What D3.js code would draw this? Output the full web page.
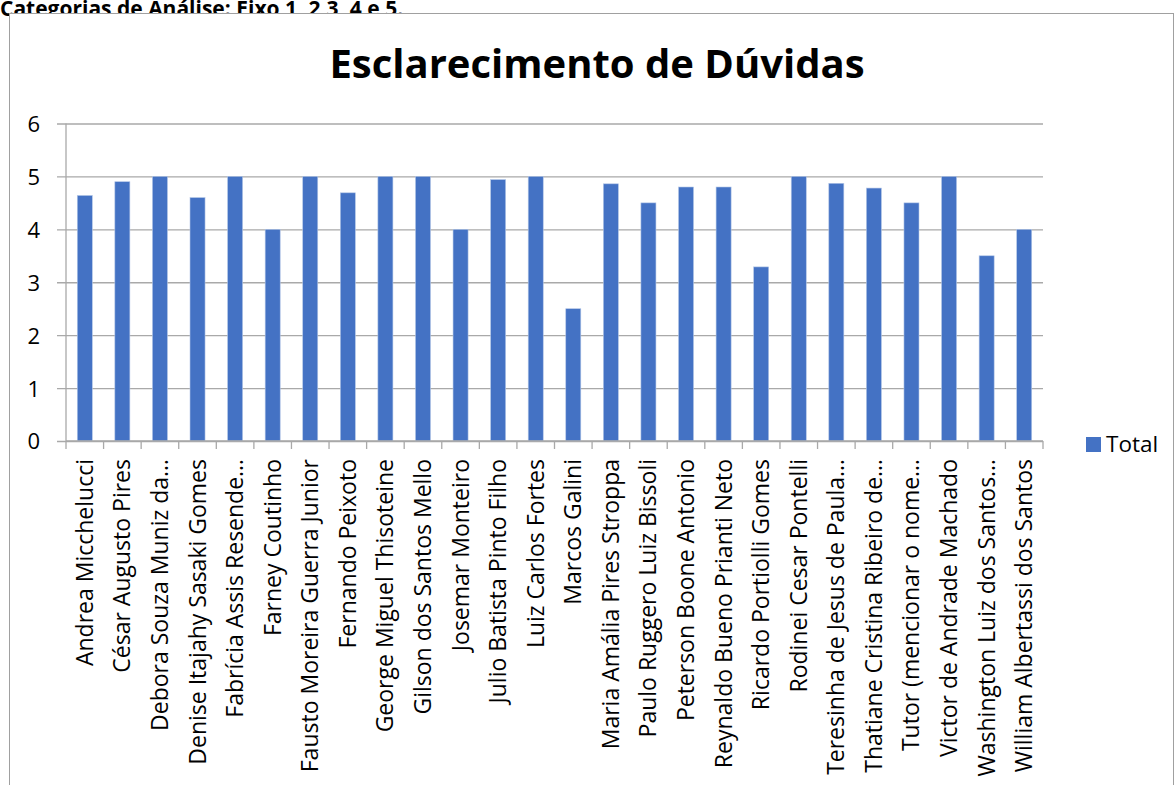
<!DOCTYPE html>
<html>
<head>
<meta charset="utf-8">
<script src="https://cdn.jsdelivr.net/npm/d3@7"></script>
<style>
  body { margin: 0; background: white; overflow: hidden; }
  text { font-family: "Open Sans", "Noto Sans", sans-serif; fill: #000; }
</style>
</head>
<body>
<svg id="chart" width="1176" height="785"></svg>
<script>
// chart data
var categories = [
  "Andrea Micchelucci", "César Augusto Pires", "Debora Souza Muniz da…",
  "Denise Itajahy Sasaki Gomes", "Fabrícia Assis Resende…", "Farney Coutinho",
  "Fausto Moreira Guerra Junior", "Fernando Peixoto", "George Miguel Thisoteine",
  "Gilson dos Santos Mello", "Josemar Monteiro", "Julio Batista Pinto Filho",
  "Luiz Carlos Fortes", "Marcos Galini", "Maria Amália Pires Stroppa",
  "Paulo Ruggero Luiz Bissoli", "Peterson Boone Antonio", "Reynaldo Bueno Prianti Neto",
  "Ricardo Portiolli Gomes", "Rodinei Cesar Pontelli", "Teresinha de Jesus de Paula…",
  "Thatiane Cristina Ribeiro de…", "Tutor (mencionar o nome…", "Victor de Andrade Machado",
  "Washington Luiz dos Santos…", "William Albertassi dos Santos"
];
var totals = [
  4.64, 4.9, 5, 4.6, 5, 4, 5, 4.69, 5, 5, 4, 4.94, 5,
  2.5, 4.86, 4.5, 4.8, 4.8, 3.29, 5, 4.87, 4.78, 4.5, 5, 3.5, 4
];
var yTicks = [0, 1, 2, 3, 4, 5, 6];
var seriesName = "Total";
var titleText = "Esclarecimento de Dúvidas";
var headingText = "Categorias de Análise: Eixo 1, 2,3, 4 e 5.";

var app = {};
app.left = 66;    // plot area left
app.right = 1043; // plot area right
app.top = 123.5;  // y of 6
app.bottom = 441; // y of 0
app.barColor = "#4472C4";
app.gridColor = "#A9A9A9";

var svg = d3.select("#chart");

// heading above the chart box (cut at the top of the page, as in the source)
svg.append("text")
  .attr("x", 0)
  .attr("y", 16)
  .style("font-size", "21px")
  .style("font-weight", "bold")
  .text(headingText);

// chart frame
svg.append("rect")
  .attr("x", 9.5)
  .attr("y", 13.5)
  .attr("width", 1164)
  .attr("height", 800)
  .style("fill", "white")
  .style("stroke", "#A0A0A0")
  .style("stroke-width", 1);

// title
svg.append("text")
  .attr("x", 597)
  .attr("y", 78)
  .attr("text-anchor", "middle")
  .style("font-size", "40px")
  .style("font-weight", "bold")
  .text(titleText);

var x = d3.scaleBand()
  .domain(categories)
  .range([app.left, app.right])
  .paddingInner(0.6)
  .paddingOuter(0.3);

var y = d3.scaleLinear()
  .domain([0, 6])
  .range([app.bottom, app.top]);

// gridlines + y ticks
var yAxis = svg.append("g")
  .attr("transform", "translate(" + app.left + ",0)")
  .call(d3.axisLeft(y)
    .tickValues(yTicks)
    .tickFormat(d3.format("d"))
    .tickSize(-(app.right - app.left)));
yAxis.select(".domain").remove();
yAxis.selectAll("line")
  .attr("x1", -9)
  .style("stroke", app.gridColor)
  .style("stroke-width", 1.3);
yAxis.selectAll("text")
  .style("font-size", "22px")
  .attr("x", -26)
  .attr("dy", "0.36em");

// y axis line
svg.append("line")
  .attr("x1", app.left).attr("x2", app.left)
  .attr("y1", app.top).attr("y2", app.bottom)
  .style("stroke", app.gridColor)
  .style("stroke-width", 1.3);

// bars
svg.append("g").selectAll("rect")
  .data(categories)
  .enter()
  .append("rect")
  .attr("x", function(d){ return x(d); })
  .attr("y", function(d, i){ return y(totals[i]); })
  .attr("width", x.bandwidth())
  .attr("height", function(d, i){ return y(0) - y(totals[i]); })
  .style("fill", app.barColor)
  .style("stroke", "#B4C7E7")
  .style("stroke-width", 0.6);

// x axis: line + tick marks at category boundaries
var step = (app.right - app.left) / categories.length;
var xAxis = svg.append("g");
xAxis.append("line")
  .attr("x1", app.left).attr("x2", app.right)
  .attr("y1", app.bottom).attr("y2", app.bottom)
  .style("stroke", app.gridColor)
  .style("stroke-width", 1.3);
xAxis.selectAll(".xtick")
  .data(d3.range(categories.length + 1))
  .enter()
  .append("line")
  .attr("class", "xtick")
  .attr("x1", function(i){ return app.left + i*step; })
  .attr("x2", function(i){ return app.left + i*step; })
  .attr("y1", app.bottom)
  .attr("y2", app.bottom + 8)
  .style("stroke", app.gridColor)
  .style("stroke-width", 1.3);

// category labels, rotated
xAxis.selectAll(".xlabel")
  .data(categories)
  .enter()
  .append("text")
  .attr("class", "xlabel")
  .attr("text-anchor", "end")
  .attr("transform", function(d){
    var cx = x(d) + x.bandwidth()/2 + 8;
    return "translate(" + cx + "," + (app.bottom + 18) + ") rotate(-90)";
  })
  .style("font-size", "23px")
  .text(function(d){ return d; });

// legend
var legend = svg.append("g").attr("transform", "translate(1086,437)");
legend.append("rect")
  .attr("width", 15).attr("height", 15)
  .style("fill", app.barColor);
legend.append("text")
  .attr("x", 20).attr("y", 15)
  .style("font-size", "22.5px")
  .text(seriesName);
</script>
</body>
</html>
